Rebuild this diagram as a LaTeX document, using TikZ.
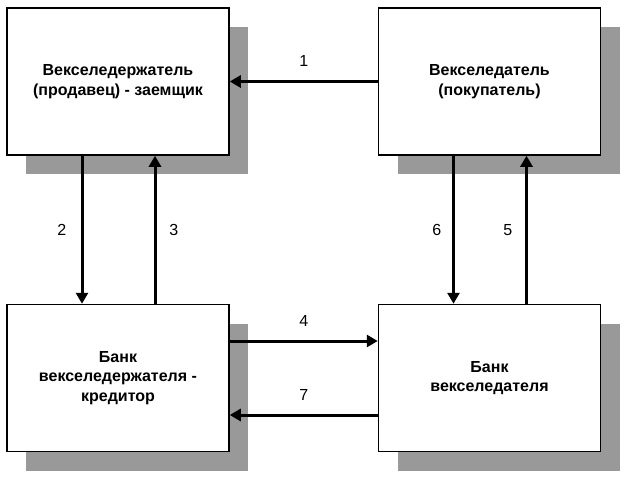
\documentclass[tikz,border=0pt]{standalone}
\usepackage{fontspec}
\setmainfont{Liberation Sans}
\usepackage{tikz}
\usetikzlibrary{arrows.meta, positioning, shadows}
\definecolor{shadowgray}{RGB}{153,153,153}

\begin{document}
\begin{tikzpicture}[x=1pt, y=-1pt, >={Triangle[length=11pt, width=12pt]}, node distance=148pt,
    party/.style={draw, line width=1.5pt, fill=white, minimum width=222pt, minimum height=147pt, align=center, inner sep=0pt,
        font=\fontsize{16}{19.5}\selectfont\bfseries,
        drop shadow={shadow xshift=19pt, shadow yshift=-19pt, opacity=1, fill=shadowgray}},
    flow/.style={->, line width=3pt},
    num/.style={font=\fontsize{16}{18}\selectfont}
]
\useasboundingbox (0,0) rectangle (628,479);

% Nodes
\node[party] (holder) at (118,81.5) {Векселедержатель\\(продавец) - заемщик};
\node[party, right=of holder] (drawer) {Векселедатель\\(покупатель)};
\node[party, below=of holder] (holderbank) {Банк\\векселедержателя -\\кредитор};
\node[party, right=of holderbank] (drawerbank) {Банк\\векселедателя};

% Connections
\draw[flow] (drawer.west) -- node[num, above=10pt] {1} (holder.east);
\draw[flow] ([xshift=-36pt]holder.south) -- node[num, left=11pt] {2} ([xshift=-36pt]holderbank.north);
\draw[flow] ([xshift=37pt]holderbank.north) -- node[num, right=9.5pt] {3} ([xshift=37pt]holder.south);
\draw[flow] ([yshift=37pt]holderbank.east) -- node[num, above=10pt] {4} ([yshift=37pt]drawerbank.west);
\draw[flow] ([xshift=37pt]drawerbank.north) -- node[num, left=9.5pt] {5} ([xshift=37pt]drawer.south);
\draw[flow] ([xshift=-36pt]drawer.south) -- node[num, left=7.5pt] {6} ([xshift=-36pt]drawerbank.north);
\draw[flow] ([yshift=-37pt]drawerbank.west) -- node[num, above=10pt] {7} ([yshift=-37pt]holderbank.east);

\end{tikzpicture}
\end{document}
